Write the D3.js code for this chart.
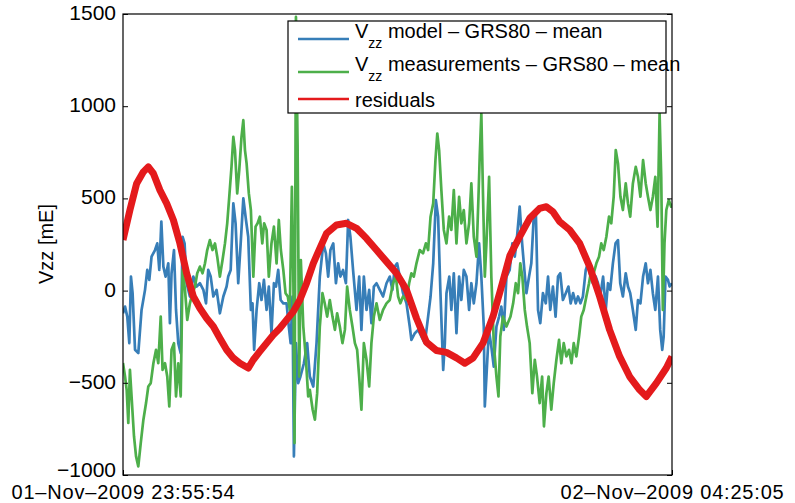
<!DOCTYPE html>
<html><head><meta charset="utf-8">
<script src="https://cdn.jsdelivr.net/npm/d3@7"></script>
<style>
body{margin:0;background:#fff;}
text{font-family:"Liberation Sans",Arial,Helvetica,sans-serif;fill:#000;}
</style>
</head><body>
<svg id="chart" width="795" height="503"></svg>
<script>
// ---- data (time in minutes after start, value in mE) ----
const startTime = new Date(2009, 10, 1, 23, 55, 54);
const endTime = new Date(2009, 10, 2, 4, 25, 5);
const yTicks = [-1000, -500, 0, 500, 1000, 1500];
const seriesNames = [
  {main: "V", sub: "zz", rest: " model \u2013 GRS80 \u2013 mean"},
  {main: "V", sub: "zz", rest: " measurements \u2013 GRS80 \u2013 mean"},
  {main: "residuals", sub: "", rest: ""}
];
const seriesColors = ["#377eb8", "#4daf4a", "#e41a1c"];

const modelData = [[0.0,-123],[1.0,-87],[2.1,-141],[3.1,-285],[3.9,76],[4.7,-14],[5.9,-321],[7.5,-339],[9.1,-105],[10.8,4],[11.9,112],[12.9,58],[14.0,184],[15.7,220],[16.8,256],[17.8,112],[18.8,374],[19.8,130],[20.9,76],[22.2,148],[23.0,-177],[23.8,94],[25.0,220],[26.0,-105],[27.1,-285],[28.3,-339],[29.2,292],[30.2,256],[31.2,40],[32.8,-32],[34.5,76],[36.1,22],[37.7,40],[39.4,4],[40.7,-69],[41.8,112],[43.0,76],[44.3,-32],[45.9,4],[47.5,-123],[49.2,-32],[50.8,22],[51.6,76],[52.8,112],[54.1,473],[55.2,365],[56.5,40],[57.7,256],[59.0,500],[60.3,383],[61.4,292],[62.7,-105],[63.5,-69],[64.3,-321],[65.5,-105],[66.8,40],[67.9,-51],[69.1,58],[70.4,-105],[71.5,22],[72.8,-231],[74.0,40],[75.0,22],[76.1,112],[77.3,-51],[78.6,-69],[80.2,-69],[81.3,-195],[82.2,-285],[83.1,-32],[83.8,-899],[84.8,-285],[85.9,-502],[87.0,-466],[88.7,-394],[90.3,-285],[91.6,-466],[93.3,-520],[94.9,-285],[96.5,76],[98.2,256],[99.5,202],[100.6,76],[101.7,220],[103.1,256],[104.4,40],[105.5,148],[106.6,76],[107.9,112],[109.3,40],[110.4,383],[111.5,292],[112.8,112],[114.5,-105],[115.8,76],[116.9,-213],[118.1,76],[119.4,-105],[120.7,4],[121.8,-177],[123.0,22],[124.3,40],[125.9,4],[127.5,-32],[129.2,40],[130.8,76],[132.1,4],[133.3,130],[134.4,148],[135.7,76],[137.3,-14],[139.0,-69],[140.6,-195],[141.4,-267],[143.1,-231],[144.7,-213],[146.3,-249],[148.0,-285],[149.6,-141],[150.8,-32],[152.1,148],[153.4,491],[154.5,401],[155.6,4],[157.0,-430],[157.8,-285],[158.6,-14],[160.0,76],[161.0,-105],[162.2,94],[163.5,-231],[164.8,76],[165.9,-51],[167.1,112],[168.4,76],[169.7,-105],[170.8,40],[172.0,-69],[173.3,40],[174.6,256],[175.7,76],[176.9,-195],[177.4,-628],[178.2,-466],[179.4,-213],[180.6,-303],[181.8,-412],[183.1,-195],[184.4,-141],[185.5,-87],[186.7,-213],[188.0,76],[189.6,112],[190.9,256],[192.1,184],[193.2,292],[194.5,455],[195.7,256],[196.8,112],[197.8,-14],[199.1,76],[200.2,148],[201.4,401],[202.4,437],[203.5,-105],[204.6,-177],[205.9,-14],[207.3,-69],[208.4,76],[209.5,-105],[210.8,22],[212.1,-141],[213.3,76],[214.4,94],[215.7,-51],[217.1,-14],[218.4,22],[219.5,-69],[220.7,-14],[222.0,-69],[223.1,-32],[224.3,-69],[225.5,-32],[226.9,112],[228.0,148],[229.2,76],[230.4,40],[231.8,76],[232.9,40],[234.0,-32],[235.4,76],[236.7,-105],[237.8,40],[238.9,4],[240.2,148],[241.5,256],[242.7,274],[243.8,40],[245.1,-32],[246.5,94],[247.6,22],[248.7,-14],[250.0,-105],[251.4,-213],[252.5,-51],[253.7,-69],[255.0,76],[256.3,148],[257.4,40],[258.6,112],[259.8,-14],[261.0,-105],[262.3,76],[263.4,-213],[264.4,-321],[265.1,-249],[266.0,76],[267.2,58],[268.0,22],[269.18,40]];

const measData = [[0.0,-393],[1.0,-466],[1.8,-538],[2.6,-718],[3.4,-430],[4.2,-574],[5.4,-791],[6.4,-899],[7.5,-953],[8.7,-827],[10.0,-700],[11.3,-610],[12.4,-520],[13.6,-502],[14.9,-394],[16.2,-321],[17.3,-394],[18.5,-141],[19.4,-430],[20.6,-394],[21.7,-466],[22.7,-628],[23.8,-321],[25.0,-285],[26.0,-574],[27.1,-394],[28.3,-574],[29.2,112],[30.4,4],[31.5,-159],[32.8,-69],[34.1,-14],[35.3,22],[36.4,94],[37.7,130],[39.0,94],[40.2,148],[41.3,220],[42.6,274],[43.9,220],[45.1,256],[46.2,184],[47.5,76],[48.8,166],[50.0,256],[51.1,365],[52.1,509],[53.2,671],[54.1,834],[54.9,762],[56.0,527],[57.0,653],[58.1,834],[59.0,924],[59.8,762],[60.6,690],[61.7,527],[62.7,437],[63.9,76],[65.0,347],[66.0,365],[67.1,401],[68.3,256],[69.2,365],[70.4,329],[71.5,76],[72.8,256],[74.0,347],[75.3,148],[76.4,383],[77.4,220],[78.6,112],[79.7,-14],[80.8,-32],[81.8,-105],[82.8,563],[83.5,112],[84.1,-827],[84.8,1484],[85.6,794],[86.4,-466],[87.2,166],[88.4,-195],[89.7,-375],[90.8,-574],[91.6,-538],[93.0,-646],[94.1,-700],[95.2,-556],[96.5,-195],[97.8,-14],[98.9,-69],[100.1,-141],[101.4,-51],[102.7,-141],[103.9,-213],[105.0,-123],[106.3,-195],[107.6,-285],[108.8,-213],[109.9,22],[111.2,-105],[112.5,-195],[113.7,-285],[114.8,-321],[115.8,-466],[116.9,-646],[118.1,-285],[119.4,-375],[120.7,-520],[121.8,-285],[123.0,-141],[124.3,-69],[125.9,-159],[127.5,-105],[129.2,-69],[130.8,-51],[132.4,40],[133.8,76],[134.9,-32],[136.0,-69],[137.3,-32],[139.0,-51],[140.3,40],[141.4,94],[142.6,76],[143.9,148],[145.5,220],[147.1,202],[148.5,256],[149.6,220],[150.8,401],[152.1,473],[153.2,708],[154.1,852],[155.0,762],[156.1,545],[157.3,329],[158.6,256],[159.9,401],[161.0,329],[162.2,545],[163.5,256],[164.8,509],[165.9,365],[167.1,437],[168.4,256],[169.7,365],[170.8,581],[172.0,292],[173.3,184],[174.3,509],[174.9,726],[175.7,960],[176.5,527],[177.4,76],[178.2,256],[179.5,617],[180.6,76],[181.8,-285],[183.1,-466],[184.1,-574],[185.0,-249],[186.3,-141],[188.0,-195],[190.0,-141],[191.3,-69],[192.6,40],[193.7,-14],[194.8,148],[195.8,76],[197.0,-105],[198.1,-195],[199.4,-285],[200.7,-556],[201.9,-375],[203.0,-466],[204.3,-610],[205.5,-466],[206.4,-736],[207.6,-556],[208.7,-466],[210.0,-646],[211.2,-502],[212.5,-375],[213.8,-267],[214.9,-394],[216.1,-285],[217.4,-357],[218.7,-321],[219.9,-394],[221.0,-285],[222.3,-357],[223.6,-249],[224.7,-141],[225.9,-105],[227.2,-32],[228.5,40],[229.6,112],[230.8,94],[232.1,148],[233.4,184],[234.5,256],[235.7,220],[237.0,292],[238.3,401],[239.4,365],[240.6,509],[241.6,762],[242.7,690],[243.9,509],[245.1,437],[246.5,581],[247.6,473],[248.7,401],[250.0,581],[251.4,671],[252.5,617],[253.7,509],[255.0,708],[256.3,581],[257.4,509],[258.6,437],[259.8,509],[261.0,617],[262.1,347],[263.1,960],[263.9,617],[264.7,-105],[265.5,256],[266.4,437],[267.6,491],[268.8,455],[269.18,473]];

const residData = [[0,274],[3.4,437],[6.7,581],[10.0,644],[12.4,671],[14.9,635],[18.1,545],[21.4,473],[24.7,383],[27.9,256],[31.2,94],[34.5,-32],[37.7,-96],[41.0,-150],[44.3,-195],[47.5,-258],[50.8,-321],[54.1,-366],[57.3,-394],[61.4,-420],[63.9,-375],[67.1,-330],[70.4,-285],[73.7,-240],[76.9,-204],[80.2,-159],[83.5,-114],[86.7,-51],[90.0,40],[93.3,148],[96.5,229],[99.8,310],[104.7,356],[109.6,365],[114.5,338],[119.4,283],[124.3,220],[129.2,157],[134.1,94],[139.0,4],[143.9,-150],[148.8,-280],[153.7,-325],[158.6,-335],[163.5,-365],[167.6,-394],[171.6,-366],[176.5,-285],[181.4,-141],[185.0,0],[189.7,190],[194.5,292],[199.4,392],[204.3,446],[207.6,455],[210.8,428],[214.1,374],[219.0,329],[223.9,256],[228.8,130],[233.7,-32],[238.6,-213],[243.5,-357],[248.4,-466],[253.3,-538],[256.6,-574],[261.5,-502],[266.4,-420],[269.18,-357]];

// ---- chart ----
const svg = d3.select("#chart");
const toDate = m => new Date(startTime.getTime() + m * 60000);

const x = d3.scaleTime().domain([startTime, endTime]).range([123, 672]);
const y = d3.scaleLinear().domain([-1000, 1500]).range([475, 14]);

svg.append("defs").append("clipPath").attr("id", "plotclip")
  .append("rect").attr("x", 123).attr("y", 14).attr("width", 549).attr("height", 461);

const line = d3.line().x(d => x(toDate(d[0]))).y(d => y(d[1]));
const plot = svg.append("g").attr("clip-path", "url(#plotclip)");

const allSeries = [modelData, measData, residData];
const widths = [2.7, 2.7, 7];
allSeries.forEach((s, i) => {
  plot.append("path").datum(s)
    .attr("fill", "none")
    .attr("stroke", seriesColors[i])
    .attr("stroke-width", widths[i])
    .attr("stroke-linejoin", "round")
    .attr("d", line);
});

// axes
const fmtTime = d3.timeFormat("%d-%b-%Y %H:%M:%S");
const fmtNum = d => (d < 0 ? "\u2212" : "") + Math.abs(d);
const leftAxis = d3.axisLeft(y).tickValues(yTicks).tickSizeInner(-5).tickSizeOuter(0).tickPadding(7).tickFormat(fmtNum);
const rightAxis = d3.axisRight(y).tickValues(yTicks).tickSizeInner(-5).tickSizeOuter(0).tickFormat("");
const bottomAxis = d3.axisBottom(x).tickValues([startTime, endTime]).tickSizeInner(-5).tickSizeOuter(0)
  .tickPadding(9.4).tickFormat(d => fmtTime(d).replace(/-/g, "\u2013"));

function styleAxis(g, size) {
  g.select(".domain").remove();
  g.selectAll("line").attr("stroke", "#000").attr("stroke-width", 1);
  g.selectAll("text").attr("font-size", size).attr("font-family", "Liberation Sans, Arial, sans-serif").attr("fill", "#000");
}
svg.append("g").attr("transform", "translate(123,0)").call(leftAxis).call(styleAxis, 21)
  .selectAll("text").attr("dy", d => d === yTicks[0] ? "0.05em" : "0.26em");
svg.append("g").attr("transform", "translate(672,0)").call(rightAxis).call(styleAxis, 21);
svg.append("g").attr("transform", "translate(0,475)").call(bottomAxis).call(styleAxis, 20)
  .selectAll("text").attr("letter-spacing", 0.8);

// box
svg.append("rect").attr("x", 123).attr("y", 14).attr("width", 549).attr("height", 461)
  .attr("fill", "none").attr("stroke", "#000").attr("stroke-width", 1.2);

// y label
svg.append("text").attr("transform", "translate(53,244) rotate(-90)")
  .attr("text-anchor", "middle").attr("font-size", 20).text("Vzz [mE]");

// legend
const lg = svg.append("g");
lg.append("rect").attr("x", 288).attr("y", 21).attr("width", 378).attr("height", 92)
  .attr("fill", "#fff").attr("stroke", "#000").attr("stroke-width", 1.2);
const lineY = [39, 72, 99];
const textY = [38, 70.5, 107];
seriesNames.forEach((n, i) => {
  lg.append("line").attr("x1", 298).attr("x2", 349).attr("y1", lineY[i]).attr("y2", lineY[i])
    .attr("stroke", seriesColors[i]).attr("stroke-width", 2.4);
  const t = lg.append("text").attr("x", 355).attr("y", textY[i]).attr("font-size", 20);
  t.append("tspan").text(n.main);
  if (n.sub) {
    t.append("tspan").attr("dy", 10).attr("font-size", 14).text(n.sub);
    t.append("tspan").attr("dy", -10).text(n.rest);
  }
});
</script>
</body></html>
